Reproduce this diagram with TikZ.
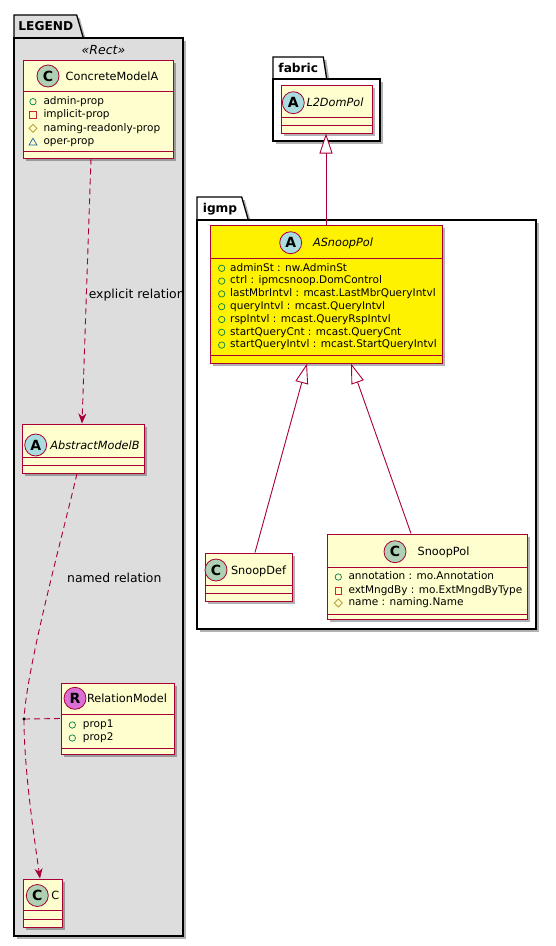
\documentclass[tikz,border=0pt]{standalone}
\usepackage{fontspec}
\setmainfont{DejaVu Sans}
\usetikzlibrary{arrows.meta, positioning, calc, shadows}
\definecolor{umlred}{HTML}{A80036}
\definecolor{classfill}{HTML}{FEFECE}
\definecolor{legendgray}{HTML}{DDDDDD}
\definecolor{iconC}{HTML}{ADD1B2}
\definecolor{iconA}{HTML}{A9DCDF}
\definecolor{iconR}{HTML}{DA70D6}
\definecolor{pubgreen}{HTML}{038048}
\definecolor{privred}{HTML}{C82930}
\definecolor{protgold}{HTML}{B38D22}
\definecolor{pkgblue}{HTML}{1963A0}
\tikzset{
  umlshadow/.style={drop shadow={shadow xshift=3pt, shadow yshift=-3pt, fill=black, opacity=0.3}},
  pkgbody/.style={rectangle, draw=black, line width=1.3pt, fill=white, inner sep=0pt, umlshadow},
  pkgtab/.style={draw=black, line width=1.3pt, fill=white, umlshadow},
  pkglabel/.style={inner sep=0pt, font=\bfseries\fontsize{12.2}{14}\selectfont},
  classbox/.style={rectangle, draw=umlred, line width=1pt, fill=classfill, inner sep=0pt, umlshadow},
  classline/.style={draw=umlred, line width=1pt},
  icon/.style={circle, draw=umlred, line width=0.8pt, minimum size=22pt, inner sep=0pt, font=\bfseries\fontsize{14}{14}\selectfont},
  clsname/.style={inner sep=0pt, text height=8pt, text depth=0pt, font=\fontsize{11.3}{13}\selectfont},
  absname/.style={clsname, font=\itshape\fontsize{11.3}{13}\selectfont},
  attr/.style={anchor=west, inner sep=0pt, text height=7.5pt, text depth=2pt, font=\fontsize{10.5}{13}\selectfont},
  lbl/.style={inner sep=0pt, font=\fontsize{12.4}{14}\selectfont},
  inh/.style={draw=umlred, line width=0.9pt, -{Triangle[length=20pt, width=13pt, fill=white]}},
  depline/.style={draw=umlred, line width=0.9pt, dash pattern=on 6pt off 4pt},
  dep/.style={depline, -{Stealth[length=10pt, width=8pt, inset=3pt]}},
  pubmark/.pic={\draw[pubgreen, line width=0.7pt] (0,0) circle (3.2pt);},
  privmark/.pic={\draw[privred, line width=0.7pt] (-3.2pt,-3.2pt) rectangle (3.2pt,3.2pt);},
  protmark/.pic={\draw[protgold, line width=0.7pt] (-4pt,0) -- (0,4pt) -- (4pt,0) -- (0,-4pt) -- cycle;},
  pkgmark/.pic={\draw[pkgblue, line width=0.7pt] (-4pt,-3.3pt) -- (4pt,-3.3pt) -- (0,3.5pt) -- cycle;}
}
\begin{document}
\begin{tikzpicture}[x=1pt, y=-1pt]
\useasboundingbox (0,0) rectangle (556,946);
\fill[white] (0,0) rectangle (556,946);

% packages
\draw[pkgtab, fill=legendgray] (14,38) -- (14,15) -- (76.7,15) -- (83.3,38) -- cycle;
\node[pkgbody, fill=legendgray, minimum width=169pt, minimum height=898pt] (legend) at (98.5,487) {};
\node[pkglabel] (legend-t) at (45.8,26.5) {LEGEND};
\node[inner sep=0pt, font=\itshape\fontsize{12.5}{14}\selectfont] (legend-s) at (103.5,50) {«Rect»};

\draw[pkgtab] (273,79) -- (273,57) -- (323.3,57) -- (326.7,79) -- cycle;
\node[pkgbody, minimum width=107pt, minimum height=62pt] (fabric) at (326.5,110) {};
\node[pkglabel] (fabric-t) at (298.3,68) {fabric};

\draw[pkgtab] (197,220) -- (197,197) -- (241.7,197) -- (248.3,220) -- cycle;
\node[pkgbody, minimum width=339pt, minimum height=409pt] (igmp) at (366.5,424.5) {};
\node[pkglabel] (igmp-t) at (220,209.5) {igmp};

% legend classes
\node[classbox, minimum width=150pt, minimum height=98pt] (cma) at (98,109) {};
\draw[classline] (cma.west |- 0,91) -- (cma.east |- 0,91);
\draw[classline] (cma.west |- 0,151) -- (cma.east |- 0,151);
\node[icon, fill=iconC] (cma-i) at (48,76) {C};
\node[clsname] (cma-n) at (112,76) {ConcreteModelA};
\pic at (33,101.7) {pubmark};
\pic at (33,115) {privmark};
\pic at (33,128.3) {protmark};
\pic at (33,141.7) {pkgmark};
\foreach \txt/\yy [count=\i] in {admin-prop/101.7, implicit-prop/115, naming-readonly-prop/128.3, oper-prop/141.7}
  \node[attr] (cma-a\i) at (43.3,\yy) {\txt};

\node[classbox, minimum width=122pt, minimum height=49pt] (amb) at (83,448.5) {};
\draw[classline] (amb.west |- 0,457.7) -- (amb.east |- 0,457.7);
\draw[classline] (amb.west |- 0,465.7) -- (amb.east |- 0,465.7);
\node[icon, fill=iconA] (amb-i) at (35.7,445) {A};
\node[absname] (amb-n) at (95,445) {AbstractModelB};

\node[classbox, minimum width=113pt, minimum height=71pt] (rel) at (117.5,718.5) {};
\draw[classline] (rel.west |- 0,714) -- (rel.east |- 0,714);
\draw[classline] (rel.west |- 0,748) -- (rel.east |- 0,748);
\node[icon, fill=iconR] (rel-i) at (75,698.3) {R};
\node[clsname] (rel-n) at (127,698.3) {RelationModel};
\foreach \txt/\yy [count=\i] in {prop1/725, prop2/738}{
  \pic at (72.3,\yy) {pubmark};
  \node[attr] (rel-a\i) at (82.7,\yy) {\txt};
}

\node[classbox, minimum width=39pt, minimum height=48pt] (cc) at (42.5,903) {};
\draw[classline] (cc.west |- 0,910.7) -- (cc.east |- 0,910.7);
\draw[classline] (cc.west |- 0,919) -- (cc.east |- 0,919);
\node[icon, fill=iconC] (cc-i) at (37.3,895.5) {C};
\node[clsname] (cc-n) at (55.3,895.5) {C};

% fabric / igmp classes
\node[classbox, minimum width=91pt, minimum height=48pt] (l2d) at (326.5,109) {};
\draw[classline] (l2d.west |- 0,117) -- (l2d.east |- 0,117);
\draw[classline] (l2d.west |- 0,125.7) -- (l2d.east |- 0,125.7);
\node[icon, fill=iconA] (l2d-i) at (293.3,102.7) {A};
\node[absname] (l2d-n) at (335,102.7) {L2DomPol};

\node[classbox, fill=yellow, minimum width=232pt, minimum height=138pt] (asp) at (326,294) {};
\draw[classline] (asp.west |- 0,258) -- (asp.east |- 0,258);
\draw[classline] (asp.west |- 0,355.7) -- (asp.east |- 0,355.7);
\node[icon, fill=iconA] (asp-i) at (290.7,242.7) {A};
\node[absname] (asp-n) at (343,242.7) {ASnoopPol};
\foreach \txt [count=\i] in {adminSt : nw.AdminSt, ctrl : ipmcsnoop.DomControl,
    lastMbrIntvl : mcast.LastMbrQueryIntvl, queryIntvl : mcast.QueryIntvl,
    rspIntvl : mcast.QueryRspIntvl, startQueryCnt : mcast.QueryCnt,
    startQueryIntvl : mcast.StartQueryIntvl}{
  \pgfmathsetmacro\yy{268.3+12.8*(\i-1)}
  \pic at (221.7,\yy) {pubmark};
  \node[attr] (asp-a\i) at (230,\yy) {\txt};
}

\node[classbox, minimum width=87pt, minimum height=48pt] (sdef) at (248.5,577) {};
\draw[classline] (sdef.west |- 0,585.7) -- (sdef.east |- 0,585.7);
\draw[classline] (sdef.west |- 0,593) -- (sdef.east |- 0,593);
\node[icon, fill=iconC] (sdef-i) at (216,570) {C};
\node[clsname] (sdef-n) at (258.5,570) {SnoopDef};

\node[classbox, minimum width=200pt, minimum height=85pt] (spol) at (427,576.5) {};
\draw[classline] (spol.west |- 0,567) -- (spol.east |- 0,567);
\draw[classline] (spol.west |- 0,614) -- (spol.east |- 0,614);
\node[icon, fill=iconC] (spol-i) at (395,551.7) {C};
\node[clsname] (spol-n) at (443.5,551.7) {SnoopPol};
\pic at (338.3,577) {pubmark};
\pic at (338.3,590.7) {privmark};
\pic at (338.3,603) {protmark};
\foreach \txt/\yy [count=\i] in {annotation : mo.Annotation/577, extMngdBy : mo.ExtMngdByType/590.7, name : naming.Name/603}
  \node[attr] (spol-a\i) at (348.3,\yy) {\txt};

% connectors
\draw[inh] (asp.north) -- (asp.north |- l2d.south);
\draw[inh] ([xshift=6.5pt]sdef.north) -- ([xshift=-19pt]asp.south);
\draw[inh] ([xshift=-16pt]spol.north) -- ([xshift=25pt]asp.south);

\draw[dep] ([xshift=-7pt]cma.south) -- node[lbl, pos=0.515, right=2pt] (lbl-exp) {explicit relation} ([xshift=-1pt]amb.north);

\coordinate (rdot) at (24,719);
\draw[depline] ([xshift=-6pt]amb.south) .. controls (63.2,533) and (27,665) .. (rdot);
\draw[dep] (rdot) .. controls (24,770) and (34.4,839) .. ([xshift=-2.5pt]cc.north);
\draw[depline] (rdot) -- (rel.west);
\fill (rdot) circle (1.6pt);
\node[lbl, anchor=west] (lbl-named) at (67,578) {named relation};
\end{tikzpicture}
\end{document}
